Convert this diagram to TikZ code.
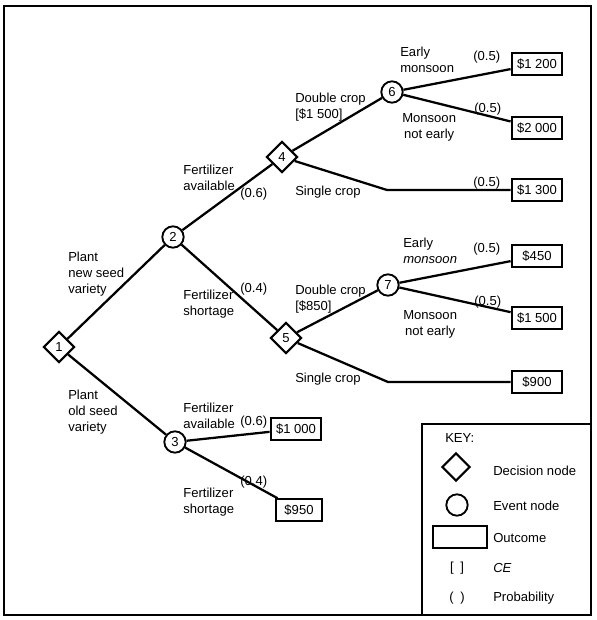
\documentclass[tikz,border=0pt]{standalone}
\usepackage{fontspec}
\setmainfont{Liberation Sans}
\usepackage{tikz}
\usetikzlibrary{shapes.geometric}

\tikzset{
  decision/.style={draw, diamond, line width=1.6pt, minimum size=23.5pt, inner sep=0pt},
  event/.style={draw, circle, line width=1.4pt, minimum size=16pt, inner sep=0pt},
  outcome/.style={draw, rectangle, line width=1.6pt, minimum width=38pt, minimum height=16pt, inner sep=0pt},
  branch/.style={line width=1.7pt},
  lbl/.style={anchor=north west, inner sep=0.75pt, align=left},
  keylbl/.style={anchor=west, inner sep=0.75pt}
}

\begin{document}
\begin{tikzpicture}[x=0.75pt,y=0.75pt,yscale=-1,xscale=1,font=\fontsize{9.8pt}{12pt}\selectfont]
\useasboundingbox (0,0) rectangle (596,620);

%Frame
\draw [line width=1.7pt] (4,6) rectangle (591,615);

% Decision nodes
\node (n1) [decision] at (59,347) {1};
\node (n4) [decision] at (282,157) {4};
\node (n5) [decision] at (286,338) {5};
% Event nodes
\node (n2) [event] at (173,237) {2};
\node (n3) [event] at (175,442) {3};
\node (n6) [event] at (392,92) {6};
\node (n7) [event] at (388,285) {7};
% Outcomes
\node (o1200) [outcome] at (537,64) {\$1~200};
\node (o2000) [outcome] at (537,128) {\$2~000};
\node (o1300) [outcome] at (537,190) {\$1~300};
\node (o450) [outcome] at (537,256) {\$450};
\node (o1500) [outcome] at (537,318) {\$1~500};
\node (o900) [outcome] at (537,382) {\$900};
\node (o1000) [outcome] at (296,429) {\$1~000};
\node (o950) [outcome, minimum width=35pt] at (299,510) {\$950};

\coordinate (k4) at (387,190);
\coordinate (k5) at (388,382);

%Straight Lines
\draw [branch] (n1) -- (n2);
\draw [branch] (n1) -- (n3);
\draw [branch] (n2) -- (n4);
\draw [branch] (n2) -- (n5);
\draw [branch] (n4) -- (n6);
\draw [branch] (n4) -- (k4) -- (o1300);
\draw [branch] (n6) -- (o1200);
\draw [branch] (n6) -- (o2000);
\draw [branch] (n5) -- (n7);
\draw [branch] (n5) -- (k5) -- (o900);
\draw [branch] (n7) -- (o450);
\draw [branch] (n7) -- (o1500);
\draw [branch] (n3) -- (o1000);
\draw [branch] (n3) -- (o950);

% Text Node
\node (pnew) [lbl] at (67,251) {Plant\\new seed\\variety};
\node (pold) [lbl] at (67,389) {Plant\\old seed\\variety};
\node (fa2) [lbl] at (182,164) {Fertilizer\\available};
\node (p24) [lbl] at (239,187) {(0.6)};
\node (p25) [lbl] at (239,282) {(0.4)};
\node (fs2) [lbl] at (182,289) {Fertilizer\\shortage};
\node (dc4) [lbl] at (294,92) {Double crop\\{[}\$1~500{]}};
\node (sc4) [lbl] at (294,185) {Single crop};
\node (em6) [lbl] at (399,46) {Early\\monsoon};
\node (p6a) [lbl] at (472,50) {(0.5)};
\node (mn6) [lbl, align=center] at (401,112) {Monsoon\\not early};
\node (p6b) [lbl] at (473,102) {(0.5)};
\node (p4s) [lbl] at (472,176) {(0.5)};
\node (dc5) [lbl] at (294,284) {Double crop\\{[}\$850{]}};
\node (em7) [lbl] at (402,237) {Early\\\textit{monsoon}};
\node (p7a) [lbl] at (472,242) {(0.5)};
\node (p7b) [lbl] at (473,295) {(0.5)};
\node (mn7) [lbl, align=center] at (402,309) {Monsoon\\not early};
\node (sc5) [lbl] at (294,372) {Single crop};
\node (fa3) [lbl] at (182,402) {Fertilizer\\available};
\node (p3a) [lbl] at (239,415) {(0.6)};
\node (p3b) [lbl] at (239,475) {(0.4)};
\node (fs3) [lbl] at (182,487) {Fertilizer\\shortage};

% Key
\draw [line width=1.4pt] (422,424) rectangle (591,615);
\node (keyt) [lbl] at (444,432) {KEY:};
\node (kdec) [decision, minimum size=21pt] at (456,467) {};
\node (kdect) [keylbl] at (492,471) {Decision node};
\node (kev) [event, minimum size=16pt] at (457,505) {};
\node (kevt) [keylbl] at (492,506) {Event node};
\node (kout) [outcome, minimum width=40pt] at (460,537) {};
\node (koutt) [keylbl] at (492,538) {Outcome};
\node (kce) at (457,568) {{[}\hspace{5pt}{]}};
\node (kcet) [keylbl] at (492,568) {\textit{CE}};
\node (kpr) at (457,598) {(\hspace{5pt})};
\node (kprt) [keylbl] at (492,598) {Probability};

\end{tikzpicture}
\end{document}
